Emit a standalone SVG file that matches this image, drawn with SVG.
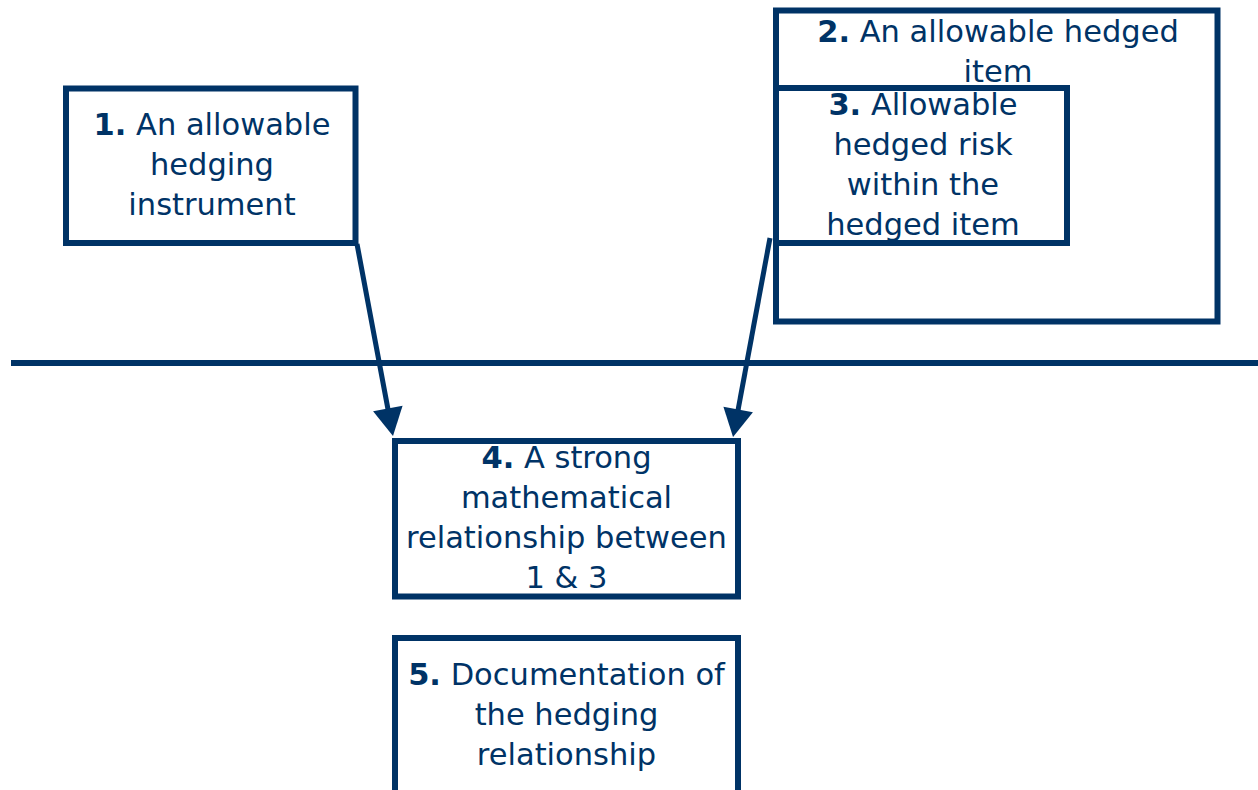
<svg xmlns="http://www.w3.org/2000/svg" width="1258" height="790" viewBox="0 0 1258 790">
<style>
.box{fill:#ffffff;stroke:#003366;stroke-width:6}
.t{font-family:"DejaVu Sans",Verdana,sans-serif;font-size:30.5px;fill:#003366;text-anchor:middle}
.b{font-weight:bold}
.conn{stroke:#003366;stroke-width:5;fill:none}
</style>
<defs>
<marker id="ah" markerUnits="userSpaceOnUse" markerWidth="30" markerHeight="32" refX="8" refY="15" orient="auto" viewBox="0 0 30 30" overflow="visible">
<path d="M0,0 L28,15 L0,30 Z" fill="#003366"/>
</marker>
</defs>
<line x1="11" y1="363" x2="1258" y2="363" stroke="#003366" stroke-width="6"/>
<g id="node1">
<rect class="box" x="66" y="88.5" width="289.5" height="154.5"/>
<text class="t" x="212" y="135"><tspan class="b">1.</tspan> An allowable</text>
<text class="t" x="212" y="175">hedging</text>
<text class="t" x="212" y="215">instrument</text>
</g>
<g id="node2">
<rect class="box" x="776" y="10.5" width="441.5" height="311"/>
<text class="t" x="998" y="42"><tspan class="b">2.</tspan> An allowable hedged</text>
<text class="t" x="998" y="82">item</text>
</g>
<g id="node3">
<rect class="box" x="776" y="88" width="291" height="155"/>
<text class="t" x="923" y="115"><tspan class="b">3.</tspan> Allowable</text>
<text class="t" x="923" y="155">hedged risk</text>
<text class="t" x="923" y="195">within the</text>
<text class="t" x="923" y="235">hedged item</text>
</g>
<g id="node4">
<rect class="box" x="395" y="441" width="343" height="155.5"/>
<text class="t" x="566.5" y="468"><tspan class="b">4.</tspan> A strong</text>
<text class="t" x="566.5" y="508">mathematical</text>
<text class="t" x="566.5" y="548">relationship between</text>
<text class="t" x="566.5" y="588">1 &amp; 3</text>
</g>
<g id="node5">
<rect class="box" x="395" y="638" width="343" height="200"/>
<text class="t" x="566.5" y="685"><tspan class="b">5.</tspan> Documentation of</text>
<text class="t" x="566.5" y="725">the hedging</text>
<text class="t" x="566.5" y="765">relationship</text>
</g>
<g id="connectors">
<line class="conn" x1="357" y1="244" x2="389.3" y2="416.3" marker-end="url(#ah)"/>
<line class="conn" x1="770" y1="238" x2="736.7" y2="417.3" marker-end="url(#ah)"/>
</g>
</svg>
